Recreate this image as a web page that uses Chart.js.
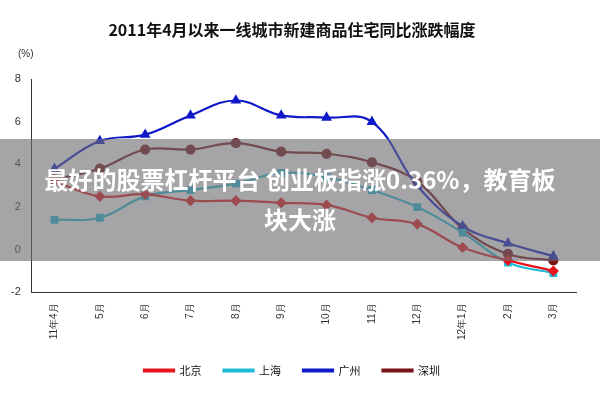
<!DOCTYPE html>
<html><head><meta charset="utf-8">
<script src="https://cdn.jsdelivr.net/npm/chart.js@4"></script>
<style>
body{margin:0;background:#fff;font-family:"Noto Sans CJK SC",sans-serif}
#w{position:relative;width:600px;height:400px}
#band{position:absolute;left:0;top:139px;width:600px;height:122px;background:rgba(110,110,115,0.62);color:#fff;font-weight:bold;font-size:24px;text-align:center;line-height:40px;padding-top:20px;box-sizing:border-box;white-space:nowrap}
#pct{position:absolute;left:18px;top:48px;font-size:10px;color:#333;font-family:"Liberation Sans"}
</style></head><body>
<div id="w"><canvas id="c" width="600" height="400"></canvas>
<div id="pct">(%)</div>
<div id="band">最好的股票杠杆平台 创业板指涨0.36%，教育板<br>块大涨</div></div>
<script>
const categories=["11年4月","5月","6月","7月","8月","9月","10月","11月","12月","12年1月","2月","3月"];
const beijing=[3.2,2.5,2.6,2.3,2.3,2.2,2.1,1.5,1.2,0.1,-0.5,-1.0];
const shanghai=[1.4,1.5,2.5,2.8,3.1,3.6,3.4,2.8,2.0,0.8,-0.6,-1.1];
const guangzhou=[3.8,5.1,5.4,6.3,7.0,6.3,6.2,6.0,3.0,1.1,0.3,-0.3];
const shenzhen=[3.3,3.8,4.7,4.7,5.0,4.6,4.5,4.1,3.2,1.0,-0.2,-0.5];
const names=["北京","上海","广州","深圳"];
const ds=(l,d,c,s)=>({label:l,data:d,borderColor:c,backgroundColor:c,pointStyle:s,pointRadius:4,borderWidth:2.2,tension:0.4});
new Chart(document.getElementById('c'),{type:'line',
data:{labels:categories,datasets:[ds(names[0],beijing,'#e8141c','rectRot'),ds(names[1],shanghai,'#1ebcd8','rect'),ds(names[2],guangzhou,'#0f19c8','triangle'),ds(names[3],shenzhen,'#7a1418','circle')]},
options:{responsive:false,animation:false,
layout:{padding:{left:8,right:24,top:4,bottom:14}},
plugins:{title:{display:true,text:'2011年4月以来一线城市新建商品住宅同比涨跌幅度',font:{size:16,family:'Noto Sans CJK SC'},color:'#111',padding:{top:16,bottom:40}},
legend:{position:'bottom',labels:{usePointStyle:false,boxWidth:30,boxHeight:2,font:{size:11,family:'Noto Sans CJK SC'},color:'#111',padding:22}}},
scales:{x:{offset:true,grid:{display:false,drawTicks:true},border:{color:'#333'},ticks:{color:'#333',maxRotation:90,minRotation:90,font:{size:10}}},
y:{min:-2,max:8,ticks:{stepSize:2,color:'#333',font:{size:11}},grid:{display:false},border:{color:'#333'}}}}});
</script></body></html>
